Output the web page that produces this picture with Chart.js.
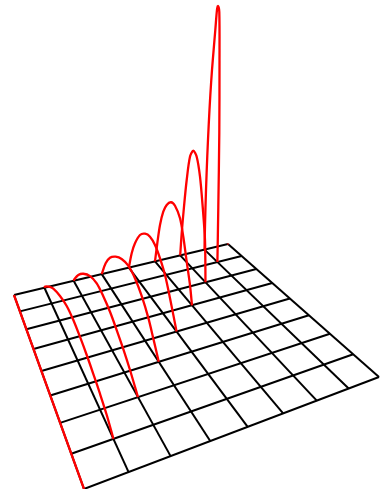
<!DOCTYPE html>
<html>
<head>
<meta charset="utf-8">
<style>html,body{margin:0;padding:0;background:#fff}canvas{display:block}</style>
<script src="https://cdn.jsdelivr.net/npm/chart.js@4"></script>
</head>
<body>
<canvas id="c" width="383" height="489"></canvas>
<script>
// Grid index values along each floor direction
const gridTicks = [0, 1, 2, 3, 4, 5, 6, 7, 8];

// Each curve: position along its floor line (0..1) and height above the floor
const arc1Pos = [0, 0.009, 0.067, 0.129, 0.226, 0.323, 0.419, 0.516, 0.613, 0.709, 0.806, 0.903, 1];
const arc1Z   = [0, 2.6, 11.2, 18.6, 25.9, 30.6, 31.1, 28.8, 25.4, 20.9, 15.6, 9.2, 0];
const arc2Pos = [0, 0.011, 0.073, 0.151, 0.255, 0.359, 0.461, 0.565, 0.669, 0.772, 0.876, 1];
const arc2Z   = [0, 2.8, 14.3, 24.6, 34.4, 39.2, 38.2, 34.8, 28.6, 21.5, 12.7, 0];
const arc3Pos = [0, 0.068, 0.144, 0.244, 0.349, 0.465, 0.582, 0.7, 0.816, 0.904, 1];
const arc3Z   = [0, 16.8, 29, 38.8, 45.7, 49.2, 46.9, 39.5, 28, 15, 0];
const arc4Pos = [0, 0.059, 0.128, 0.233, 0.338, 0.443, 0.548, 0.653, 0.758, 0.863, 1];
const arc4Z   = [0, 18.1, 32.5, 47.5, 55.5, 59.2, 57.6, 51, 41, 24.5, 0];
const arc5Pos = [0, 0.062, 0.135, 0.224, 0.316, 0.432, 0.541, 0.676, 0.765, 0.857, 0.946, 1];
const arc5Z   = [0, 20.8, 42.3, 59.5, 70.3, 78.1, 79.4, 72.8, 58.3, 37.3, 17.9, 0];
const arc6Pos = [0, 0.059, 0.15, 0.257, 0.387, 0.518, 0.652, 0.783, 0.889, 0.98, 1];
const arc6Z   = [0, 23.7, 52.7, 82.3, 109, 118.6, 116.2, 99.8, 72.6, 41.8, 0];
const arc7Pos = [0, 0.039, 0.116, 0.217, 0.326, 0.45, 0.581, 0.705, 0.837, 0.969, 1.047, 1.147, 1.163, 1.147, 1.07, 1];
const arc7Z   = [0, 25, 61, 97, 129, 160, 187, 208, 230, 252, 256.6, 251.8, 204, 130.8, 56, 0];

const arcPositions = [arc1Pos, arc2Pos, arc3Pos, arc4Pos, arc5Pos, arc6Pos, arc7Pos];
const arcHeights   = [arc1Z, arc2Z, arc3Z, arc4Z, arc5Z, arc6Z, arc7Z];

// Perspective view of the floor: grid index -> chart units
function floor(u, v) {
  const s = u / 8, t = v / 8;
  const d = 0.15892 * s - 0.35593 * t + 1;
  return { x: (250.23 * s + 40.10 * t + 14) / d, y: (-12.22 * s + 19.95 * t + 295) / d };
}

const datasets = [];
const redStyle = { borderColor: '#ff0000', backgroundColor: '#ff0000', borderWidth: 2.3, pointRadius: 0, showLine: true, order: 1 };

arcPositions.forEach((pos, i) => {
  const k = i + 1;
  const a = floor(k, 0), b = floor(k, 8 - k);
  datasets.push(Object.assign({}, redStyle, {
    tension: 0.3,
    data: pos.map((f, j) => ({ x: a.x + f * (b.x - a.x), y: a.y + f * (b.y - a.y) - arcHeights[i][j] }))
  }));
});
// Zero-height curves at the two ends of the range
datasets.push(Object.assign({}, redStyle, { data: [floor(0, 0), floor(0, 8)] }));
datasets.push(Object.assign({}, redStyle, { pointRadius: 0.8, borderWidth: 0, data: [floor(8, 0)] }));

gridTicks.forEach(n => {
  const black = { borderColor: '#000000', borderWidth: 2, pointRadius: 0, showLine: true, order: 2 };
  datasets.push(Object.assign({}, black, { data: [floor(n, 0), floor(n, 8)] }));
  datasets.push(Object.assign({}, black, { data: [floor(0, n), floor(8, n)] }));
});

new Chart(document.getElementById('c'), {
  type: 'scatter',
  data: { datasets },
  options: {
    responsive: false,
    animation: false,
    layout: { padding: 0, autoPadding: false },
    plugins: { legend: { display: false }, tooltip: { enabled: false } },
    scales: {
      x: { type: 'linear', min: 0, max: 383, display: false },
      y: { type: 'linear', min: 0, max: 489, reverse: true, display: false }
    }
  }
});
</script>
</body>
</html>
